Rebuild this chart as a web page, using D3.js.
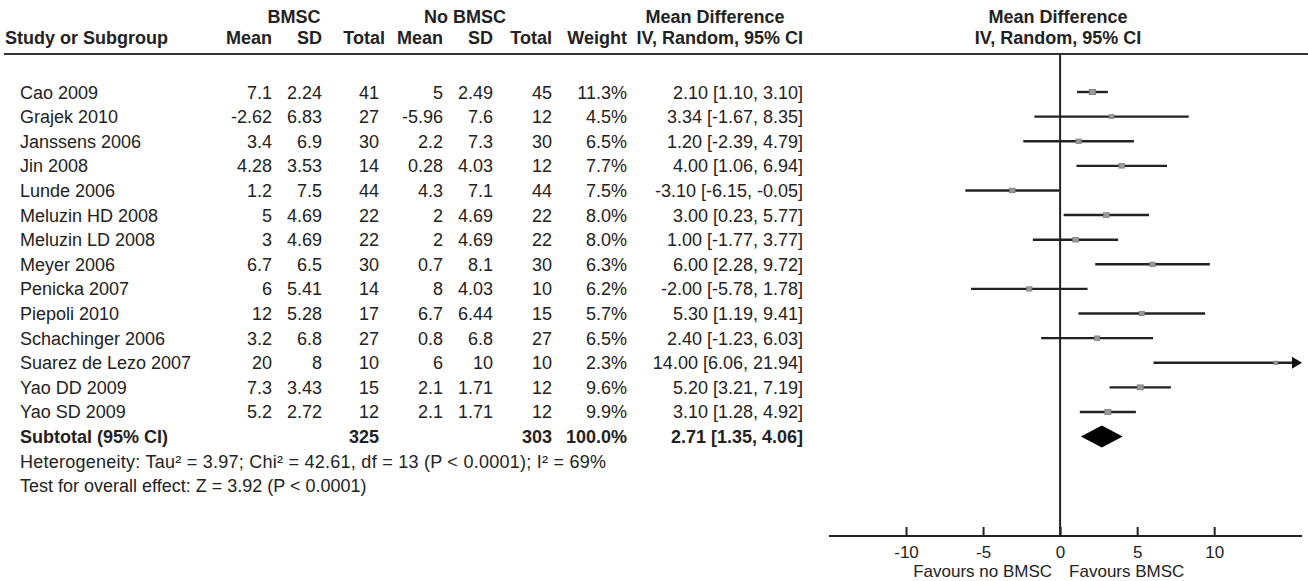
<!DOCTYPE html>
<html>
<head>
<meta charset="utf-8">
<script src="https://cdnjs.cloudflare.com/ajax/libs/d3/7.8.5/d3.min.js"></script>
<style>
  body { margin: 0; background: #fff; }
  svg { display: block; font-family: "Liberation Sans", Arial, sans-serif; }
  text { fill: #222; }
  .bold { font-weight: bold; }
</style>
</head>
<body>
<svg width="1308" height="581"></svg>
<script>
// Study data
const studies = ["Cao 2009", "Grajek 2010", "Janssens 2006", "Jin 2008", "Lunde 2006",
  "Meluzin HD 2008", "Meluzin LD 2008", "Meyer 2006", "Penicka 2007", "Piepoli 2010",
  "Schachinger 2006", "Suarez de Lezo 2007", "Yao DD 2009", "Yao SD 2009"];
const bmscMean = ["7.1", "-2.62", "3.4", "4.28", "1.2", "5", "3", "6.7", "6", "12", "3.2", "20", "7.3", "5.2"];
const bmscSD = ["2.24", "6.83", "6.9", "3.53", "7.5", "4.69", "4.69", "6.5", "5.41", "5.28", "6.8", "8", "3.43", "2.72"];
const bmscTotal = [41, 27, 30, 14, 44, 22, 22, 30, 14, 17, 27, 10, 15, 12];
const ctrlMean = ["5", "-5.96", "2.2", "0.28", "4.3", "2", "2", "0.7", "8", "6.7", "0.8", "6", "2.1", "2.1"];
const ctrlSD = ["2.49", "7.6", "7.3", "4.03", "7.1", "4.69", "4.69", "8.1", "4.03", "6.44", "6.8", "10", "1.71", "1.71"];
const ctrlTotal = [45, 12, 30, 12, 44, 22, 22, 30, 10, 15, 27, 10, 12, 12];
const weight = [11.3, 4.5, 6.5, 7.7, 7.5, 8.0, 8.0, 6.3, 6.2, 5.7, 6.5, 2.3, 9.6, 9.9];
const md = [2.10, 3.34, 1.20, 4.00, -3.10, 3.00, 1.00, 6.00, -2.00, 5.30, 2.40, 14.00, 5.20, 3.10];
const ciLow = [1.10, -1.67, -2.39, 1.06, -6.15, 0.23, -1.77, 2.28, -5.78, 1.19, -1.23, 6.06, 3.21, 1.28];
const ciHigh = [3.10, 8.35, 4.79, 6.94, -0.05, 5.77, 3.77, 9.72, 1.78, 9.41, 6.03, 21.94, 7.19, 4.92];

const subtotal = { bmscTotal: 325, ctrlTotal: 303, weight: 100.0, md: 2.71, lo: 1.35, hi: 4.06 };
const tickValues = [-10, -5, 0, 5, 10];
const footnotes = [
  "Heterogeneity: Tau\u00b2 = 3.97; Chi\u00b2 = 42.61, df = 13 (P < 0.0001); I\u00b2 = 69%",
  "Test for overall effect: Z = 3.92 (P < 0.0001)"
];

ForestPlot = function() {
  this.initVis();
};

ForestPlot.prototype.initVis = function() {
  let vis = this;

  vis.svg = d3.select("svg");
  vis.width = +vis.svg.attr("width");

  vis.x = d3.scaleLinear().domain([-15, 15.7]).range([829, 1302]);
  vis.y = d3.scaleLinear().domain([0, studies.length]).range([92, 436.6]);
  vis.axisY = 536;
  vis.headerLine = 54;

  // plain hyphen for negatives, like the original
  vis.locale = d3.formatLocale({ decimal: ".", thousands: ",", grouping: [3], currency: ["", ""], minus: "-" });

  // column right edges for the table
  vis.cols = {
    bmscMean: 272, bmscSD: 322, bmscTotal: 379,
    ctrlMean: 443, ctrlSD: 493, ctrlTotal: 552,
    weight: 627, ci: 803
  };

  vis.renderHeader();
  vis.renderTable();
  vis.renderPlot();
};

ForestPlot.prototype.renderHeader = function() {
  let vis = this;
  let c = vis.cols;

  let h = vis.svg.append("g").attr("class", "bold").attr("font-size", "18px");

  let top = [
    { t: "BMSC", x: 294, a: "middle" },
    { t: "No BMSC", x: 465, a: "middle" },
    { t: "Mean Difference", x: 715, a: "middle" },
    { t: "Mean Difference", x: 1058, a: "middle" }
  ];
  let sub = [
    { t: "Study or Subgroup", x: 5, a: "start" },
    { t: "Mean", x: c.bmscMean, a: "end" },
    { t: "SD", x: c.bmscSD, a: "end" },
    { t: "Total", x: c.bmscTotal + 6, a: "end" },
    { t: "Mean", x: c.ctrlMean, a: "end" },
    { t: "SD", x: c.ctrlSD, a: "end" },
    { t: "Total", x: c.ctrlTotal, a: "end" },
    { t: "Weight", x: c.weight, a: "end" },
    { t: "IV, Random, 95% CI", x: c.ci, a: "end" },
    { t: "IV, Random, 95% CI", x: 1058, a: "middle" }
  ];

  h.selectAll(".top").data(top).enter().append("text")
    .attr("x", d => d.x).attr("y", 23)
    .attr("text-anchor", d => d.a).text(d => d.t);

  h.selectAll(".sub").data(sub).enter().append("text")
    .attr("x", d => d.x).attr("y", 44)
    .attr("text-anchor", d => d.a).text(d => d.t);

  vis.svg.append("line")
    .attr("x1", 4).attr("x2", vis.width)
    .attr("y1", vis.headerLine).attr("y2", vis.headerLine)
    .attr("stroke", "#333").attr("stroke-width", 2);
};

ForestPlot.prototype.renderTable = function() {
  let vis = this;
  let c = vis.cols;
  let fmt = vis.locale.format(".2f");

  let rows = studies.map(function(s, i) {
    return [
      { t: s, x: 20, a: "start" },
      { t: bmscMean[i], x: c.bmscMean, a: "end" },
      { t: bmscSD[i], x: c.bmscSD, a: "end" },
      { t: bmscTotal[i], x: c.bmscTotal, a: "end" },
      { t: ctrlMean[i], x: c.ctrlMean, a: "end" },
      { t: ctrlSD[i], x: c.ctrlSD, a: "end" },
      { t: ctrlTotal[i], x: c.ctrlTotal, a: "end" },
      { t: weight[i].toFixed(1) + "%", x: c.weight, a: "end" },
      { t: fmt(md[i]) + " [" + fmt(ciLow[i]) + ", " + fmt(ciHigh[i]) + "]", x: c.ci, a: "end" }
    ];
  });

  let g = vis.svg.append("g").attr("font-size", "18px");

  g.selectAll("g.row")
    .data(rows)
    .enter()
    .append("g")
    .attr("class", "row")
    .attr("transform", (d, i) => "translate(0," + (vis.y(i) + 6.5) + ")")
    .selectAll("text")
    .data(d => d)
    .enter()
    .append("text")
    .attr("x", d => d.x)
    .attr("text-anchor", d => d.a)
    .text(d => d.t);

  // subtotal row
  let sy = vis.y(studies.length) + 6.5;
  let sub = [
    { t: "Subtotal (95% CI)", x: 20, a: "start" },
    { t: subtotal.bmscTotal, x: c.bmscTotal, a: "end" },
    { t: subtotal.ctrlTotal, x: c.ctrlTotal, a: "end" },
    { t: subtotal.weight.toFixed(1) + "%", x: c.weight, a: "end" },
    { t: fmt(subtotal.md) + " [" + fmt(subtotal.lo) + ", " + fmt(subtotal.hi) + "]", x: c.ci, a: "end" }
  ];
  g.append("g").attr("class", "bold")
    .selectAll("text").data(sub).enter().append("text")
    .attr("x", d => d.x).attr("y", sy)
    .attr("text-anchor", d => d.a).text(d => d.t);

  g.selectAll("text.note")
    .data(footnotes)
    .enter()
    .append("text")
    .attr("class", "note")
    .attr("x", 20)
    .attr("y", (d, i) => vis.y(studies.length + 1 + i) + 6.5)
    .attr("textLength", (d, i) => i === 0 ? 586 : null)
    .text(d => d);
};

ForestPlot.prototype.renderPlot = function() {
  let vis = this;
  let x = vis.x;
  let xMax = x.domain()[1];

  let p = vis.svg.append("g");

  // line of no effect
  p.append("line")
    .attr("x1", x(0)).attr("x2", x(0))
    .attr("y1", vis.headerLine).attr("y2", vis.axisY)
    .attr("stroke", "#222").attr("stroke-width", 2);

  let data = studies.map((s, i) => ({
    i: i, md: md[i], lo: ciLow[i], hi: ciHigh[i], w: weight[i]
  }));

  // confidence intervals
  p.selectAll("line.ci")
    .data(data)
    .enter()
    .append("line")
    .attr("class", "ci")
    .attr("x1", d => x(Math.max(d.lo, x.domain()[0])))
    .attr("x2", d => x(Math.min(d.hi, xMax)) - (d.hi > xMax ? 6 : 0))
    .attr("y1", d => vis.y(d.i)).attr("y2", d => vis.y(d.i))
    .attr("stroke", "#222").attr("stroke-width", 2.4);

  // arrow for truncated interval
  p.selectAll("path.arrow")
    .data(data.filter(d => d.hi > xMax))
    .enter()
    .append("path")
    .attr("class", "arrow")
    .attr("d", function(d) {
      let ex = x(xMax), ey = vis.y(d.i);
      return "M" + ex + "," + ey + "L" + (ex - 10) + "," + (ey - 6) + "L" + (ex - 10) + "," + (ey + 6) + "Z";
    })
    .attr("fill", "#111");

  // point estimates, sized by weight
  p.selectAll("rect.est")
    .data(data)
    .enter()
    .append("rect")
    .attr("class", "est")
    .attr("width", d => 2 + Math.sqrt(d.w) * 1.3)
    .attr("height", d => 1.5 + Math.sqrt(d.w) * 1.1)
    .attr("x", d => x(d.md) - (2 + Math.sqrt(d.w) * 1.3) / 2)
    .attr("y", d => vis.y(d.i) - (1.5 + Math.sqrt(d.w) * 1.1) / 2)
    .attr("fill", "#9a9a9a")
    .attr("stroke", "#7a7a7a")
    .attr("stroke-width", 0.8);

  // pooled diamond
  let dy = vis.y(studies.length);
  p.append("path")
    .attr("d", "M" + x(subtotal.lo) + "," + dy +
      "L" + x(subtotal.md) + "," + (dy - 11) +
      "L" + x(subtotal.hi) + "," + dy +
      "L" + x(subtotal.md) + "," + (dy + 11) + "Z")
    .attr("fill", "#000");

  // x axis
  let axis = p.append("g")
    .attr("transform", "translate(0," + vis.axisY + ")")
    .call(d3.axisTop(x).tickValues(tickValues).tickSize(9).tickFormat(d => String(d)));
  axis.select(".domain")
    .attr("d", "M" + x.range()[0] + ",0H" + x.range()[1])
    .attr("stroke", "#222").attr("stroke-width", 2);
  axis.selectAll(".tick line").attr("stroke", "#222").attr("stroke-width", 2);
  axis.selectAll(".tick text")
    .attr("y", 22)
    .attr("dy", null)
    .attr("font-size", "17px")
    .attr("font-family", "Liberation Sans, Arial, sans-serif")
    .attr("fill", "#222");

  p.append("text")
    .attr("x", x(0) - 8).attr("y", 577)
    .attr("text-anchor", "end").attr("font-size", "17px")
    .text("Favours no BMSC");
  p.append("text")
    .attr("x", x(0) + 9).attr("y", 577)
    .attr("text-anchor", "start").attr("font-size", "17px")
    .text("Favours BMSC");
};

new ForestPlot();
</script>
</body>
</html>
